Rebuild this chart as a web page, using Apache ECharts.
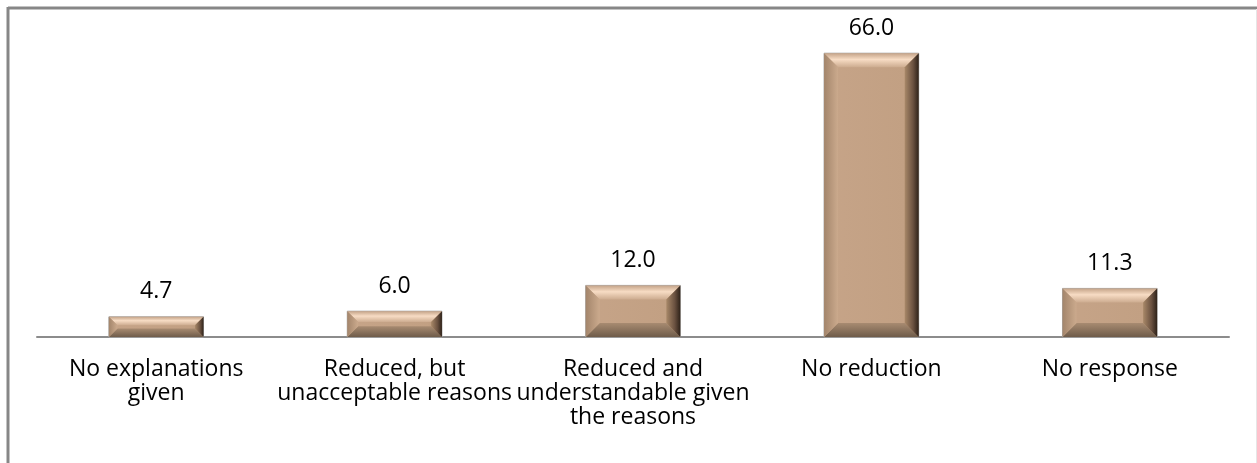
<!DOCTYPE html>
<html>
<head>
<meta charset="utf-8">
<script src="https://cdn.jsdelivr.net/npm/echarts@6/dist/echarts.min.js"></script>
<style>
html,body{margin:0;padding:0;background:#fff;}
#chart{width:1257px;height:463px;}
</style>
</head>
<body>
<div id="chart"></div>
<script>
const categories = [
  'No explanations\ngiven',
  'Reduced, but\nunacceptable reasons',
  'Reduced and\nunderstandable given\nthe reasons',
  'No reduction',
  'No response'
];
const values = [4.7, 6.0, 12.0, 66.0, 11.3];

const FONT = '"Open Sans", "Liberation Sans", sans-serif';

function renderBevel(params, api) {
  const idx = api.value(0);
  const val = api.value(1);
  const topPt = api.coord([idx, val]);
  const basePt = api.coord([idx, 0]);
  const bw = api.size([1, 0])[0] * 0.397;
  const left = topPt[0] - bw / 2, right = topPt[0] + bw / 2;
  const top = topPt[1], bottom = basePt[1];
  const h = bottom - top;
  const b = Math.min(14, h * 0.42);
  const vert = (stops) => ({type: 'linear', x: 0, y: 0, x2: 0, y2: 1, colorStops: stops});
  const horiz = (stops) => ({type: 'linear', x: 0, y: 0, x2: 1, y2: 0, colorStops: stops});
  return {
    type: 'group',
    children: [
      {type: 'rect', shape: {x: left, y: top, width: bw, height: h},
        style: {fill: horiz([{offset: 0, color: '#C6A488'}, {offset: 0.85, color: '#C2A083'}, {offset: 1, color: '#B39275'}]), stroke: '#A9A9A9', lineWidth: 1}},
      {type: 'polygon', shape: {points: [[left, top], [right, top], [right - b, top + b], [left + b, top + b]]},
        style: {fill: vert([{offset: 0, color: '#C4A388'}, {offset: 0.45, color: '#F7DCC4'}, {offset: 1, color: '#CDAC90'}])}},
      {type: 'polygon', shape: {points: [[left, bottom], [right, bottom], [right - b, bottom - b], [left + b, bottom - b]]},
        style: {fill: vert([{offset: 0, color: '#A88B71'}, {offset: 1, color: '#6F5C4A'}])}},
      {type: 'polygon', shape: {points: [[left, top], [left + b, top + b], [left + b, bottom - b], [left, bottom]]},
        style: {fill: horiz([{offset: 0, color: '#A3856B'}, {offset: 1, color: '#CBAA8D'}])}},
      {type: 'polygon', shape: {points: [[right, top], [right - b, top + b], [right - b, bottom - b], [right, bottom]]},
        style: {fill: horiz([{offset: 0, color: '#A88868'}, {offset: 0.6, color: '#6A5140'}, {offset: 1, color: '#2E2219'}])}},
      {type: 'text', style: {text: val.toFixed(1), x: topPt[0], y: top - 25, align: 'center', verticalAlign: 'middle',
        fill: '#000', font: '23px ' + FONT}}
    ]
  };
}

const chart = echarts.init(document.getElementById('chart'));
chart.setOption({
  animation: false,
  backgroundColor: '#fff',
  grid: {left: 37, right: 28, top: 36, bottom: 126},
  xAxis: {
    type: 'category',
    data: categories,
    axisLine: {lineStyle: {color: '#8C8C8C', width: 2}},
    axisTick: {show: false},
    axisLabel: {interval: 0, color: '#000', fontSize: 23, fontFamily: FONT, lineHeight: 24, margin: 20}
  },
  yAxis: {type: 'value', min: 0, max: 70, show: false},
  series: [{
    type: 'custom',
    renderItem: renderBevel,
    data: values.map((v, i) => [i, v]),
    encode: {x: 0, y: 1}
  }],
  graphic: [
    {type: 'line', shape: {x1: 8, y1: 8, x2: 1257, y2: 8}, style: {stroke: '#878787', lineWidth: 3}},
    {type: 'line', shape: {x1: 8, y1: 7, x2: 8, y2: 463}, style: {stroke: '#878787', lineWidth: 3}},
    {type: 'line', shape: {x1: 1256.5, y1: 9, x2: 1256.5, y2: 463}, style: {stroke: '#E6E6E6', lineWidth: 1}}
  ]
});
</script>
</body>
</html>
